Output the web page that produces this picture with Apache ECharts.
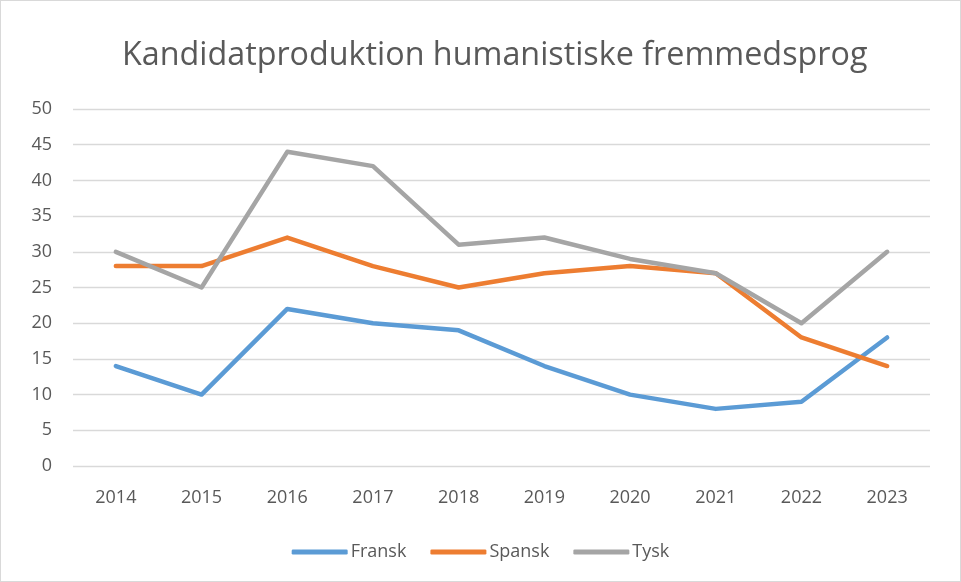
<!DOCTYPE html>
<html><head><meta charset="utf-8">
<script src="https://cdn.jsdelivr.net/npm/echarts@6/dist/echarts.min.js"></script>
<style>html,body{margin:0;padding:0;background:#fff}#c{width:961px;height:582px;box-sizing:border-box;border:1px solid #d9d9d9}</style>
</head><body><div id="c"></div>
<script>
const years = ['2014','2015','2016','2017','2018','2019','2020','2021','2022','2023'];
const fransk = [14,10,22,20,19,14,10,8,9,18];
const spansk = [28,28,32,28,25,27,28,27,18,14];
const tysk = [30,25,44,42,31,32,29,27,20,30];
const chart = echarts.init(document.getElementById('c'));
const font = 'Open Sans';
const mk = (name, data, color) => ({name, type:'line', data, symbol:'none', smooth:false,
  lineStyle:{width:4.5, color, cap:'round', join:'round'}, itemStyle:{color}});
chart.setOption({
  animation:false,
  title:{text:'Kandidatproduktion humanistiske fremmedsprog', left:116, top:34,
    textStyle:{fontFamily:font, fontSize:32.3, fontWeight:'normal', color:'#595959'}},
  grid:{left:72, right:30, top:108, bottom:115},
  legend:{bottom:15, left:'center', itemWidth:56, itemHeight:5, itemGap:24, icon:'roundRect',
    textStyle:{fontFamily:font, fontSize:18, color:'#595959', padding:[0,0,0,-2]}},
  xAxis:{type:'category', data:years, boundaryGap:true,
    axisLine:{show:false}, axisTick:{show:false},
    axisLabel:{fontFamily:font, fontSize:18, color:'#595959', margin:23}},
  yAxis:{type:'value', min:0, max:50, interval:5,
    axisLabel:{fontFamily:font, fontSize:18, color:'#595959', margin:21},
    splitLine:{lineStyle:{color:'#d9d9d9', width:1.3}}},
  series:[mk('Fransk',fransk,'#5b9bd5'), mk('Spansk',spansk,'#ed7d31'), mk('Tysk',tysk,'#a5a5a5')]
});
</script></body></html>
